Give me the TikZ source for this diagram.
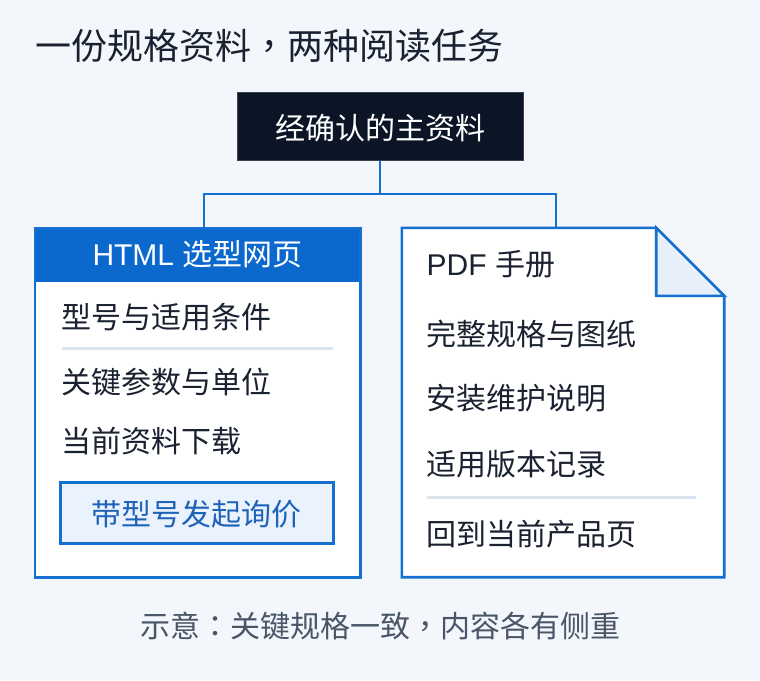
\documentclass[tikz,border=0pt]{standalone}
\usepackage{fontspec}
\setmainfont{Noto Sans CJK SC}
\newfontfamily\lat{Liberation Sans}
\newfontfamily\tcp{Noto Sans CJK TC}
\usetikzlibrary{calc}
\definecolor{bg}{HTML}{F3F7FC}
\definecolor{ink}{HTML}{1A2130}
\definecolor{navy}{HTML}{0B1526}
\definecolor{bblue}{HTML}{1670D0}
\definecolor{hblue}{HTML}{0B68CC}
\definecolor{btnfill}{HTML}{EAF3FD}
\definecolor{btntext}{HTML}{1E63B8}
\definecolor{fold}{HTML}{E6EFFA}
\definecolor{sep}{HTML}{DCE5F2}
\definecolor{cap}{HTML}{4A5568}
\tikzset{
  item/.style={anchor=base west, inner sep=0, text=ink, font=\fontsize{30}{34}\selectfont},
  conn/.style={draw=bblue, line width=2.6pt},
  sepline/.style={draw=sep, line width=3pt},
}
\begin{document}
\begin{tikzpicture}[x=1pt,y=-1pt]
\fill[bg] (0,0) rectangle (760,680);
\useasboundingbox (0,0) rectangle (760,680);

% title
\node[anchor=base west, inner sep=0, text=ink, font=\fontsize{36}{40}\selectfont] (title) at (35.5,59.5) {一份规格资料{\tcp ，}两种阅读任务};

% source box
\node[draw=navy!80!white, line width=0.8pt, fill=navy, minimum width=286pt, minimum height=68pt, inner sep=0] (src) at (380,126.5) {};
\node[anchor=base, inner sep=0, text=white, font=\fontsize{30}{34}\selectfont] (srct) at (380,139.5) {经确认的主资料};

% left box (HTML)
\node[minimum width=325pt, minimum height=349pt, inner sep=0] (html) at (197.5,402.5) {};
\fill[white] (html.north west) rectangle (html.south east);
\fill[hblue] (html.north west) rectangle ($(html.north east)+(0,54)$);
\draw[draw=bblue, line width=2.6pt] (html.north west) rectangle (html.south east);
\node[anchor=base, inner sep=0, text=white, font=\fontsize{30}{34}\selectfont] (htmlt) at (197.5,265.5) {{\lat HTML }选型网页};
\node[item] (l1) at (61,328) {型号与适用条件};
\coordinate (s1a) at (62,348.5);
\coordinate (s1b) at (333,348.5);
\draw[sepline] (s1a) -- (s1b);
\node[item] (l2) at (61,393) {关键参数与单位};
\node[item] (l3) at (61,452) {当前资料下载};
\node[draw=bblue, line width=2.2pt, fill=btnfill, minimum width=273pt, minimum height=61pt, inner sep=0] (btn) at (197,513) {};
\node[anchor=base, inner sep=0, text=btntext, font=\fontsize{30}{34}\selectfont] (btnt) at (196.5,525) {带型号发起询价};

% right box (PDF)
\node[minimum width=322pt, minimum height=349pt, inner sep=0] (pdf) at (563,402.5) {};
\coordinate (fa) at ($(pdf.north east)+(-68,0)$);
\coordinate (fb) at ($(pdf.north east)+(0,68)$);
\draw[fill=white, draw=bblue, line width=2.6pt, line join=miter] (pdf.north west) -- (fa) -- (fb) -- (pdf.south east) -- (pdf.south west) -- cycle;
\draw[fill=fold, draw=bblue, line width=2.6pt, line join=miter] (fa) -- (fa |- fb) -- (fb) -- cycle;
\node[item] (pt) at (426.5,275) {{\lat PDF }手册};
\node[item] (r1) at (426,345) {完整规格与图纸};
\node[item] (r2) at (426,409.5) {安装维护说明};
\node[item] (r3) at (426,475) {适用版本记录};
\coordinate (s2a) at (427,497);
\coordinate (s2b) at (696,497);
\draw[sepline] (s2a) -- (s2b);
\node[item] (r4) at (426,545) {回到当前产品页};

% connectors
\coordinate (jl) at (204,194);
\coordinate (jr) at (556,194);
\draw[conn] (src.south) |- (jl) -- (jl |- html.north);
\draw[conn] (src.south) |- (jr) -- (jr |- pdf.north);

% caption
\node[anchor=base, inner sep=0, text=cap, font=\fontsize{30}{34}\selectfont] (capt) at (380,637.5) {示意{\tcp ：}关键规格一致{\tcp ，}内容各有侧重};
\end{tikzpicture}
\end{document}
